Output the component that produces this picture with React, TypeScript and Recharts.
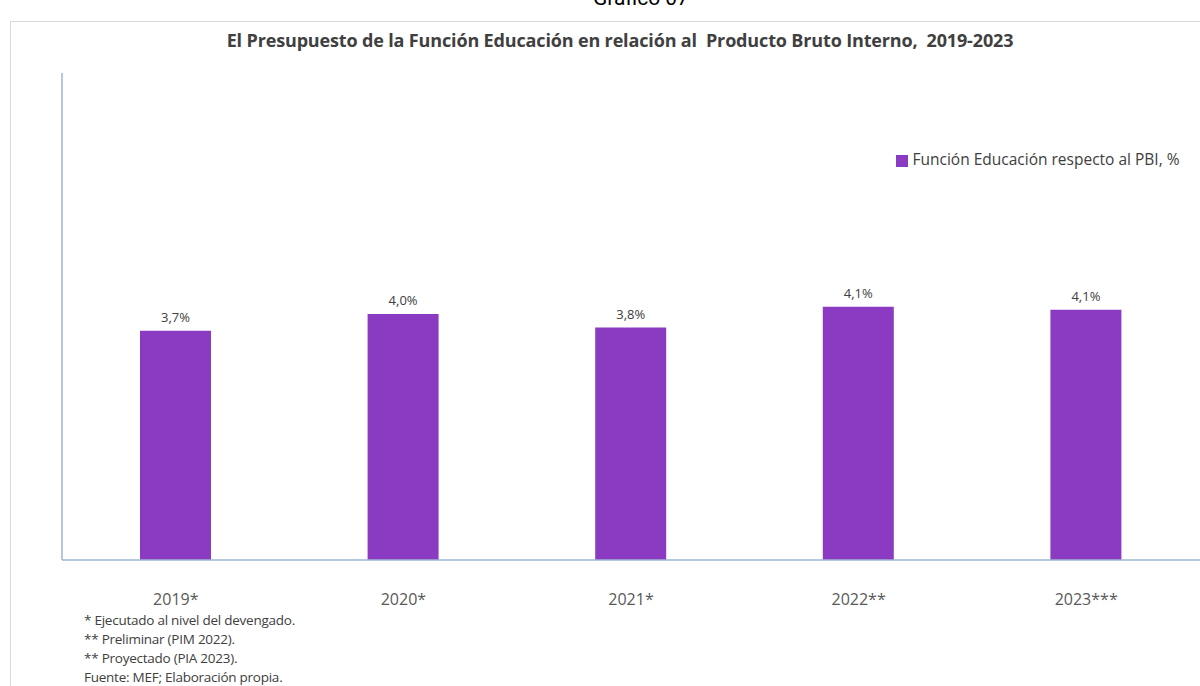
import React from 'react';
import { BarChart, Bar, XAxis, YAxis, Legend, LabelList } from 'recharts';

const years = ['2019*', '2020*', '2021*', '2022**', '2023***'];
const pctPbi = [3.72, 3.99, 3.77, 4.11, 4.06];
const pctLabels = ['3,7%', '4,0%', '3,8%', '4,1%', '4,1%'];
const footnotes = [
  '* Ejecutado al nivel del devengado.',
  '** Preliminar (PIM 2022).',
  '** Proyectado (PIA 2023).',
  'Fuente: MEF; Elaboración propia.',
];

const data = years.map((y, i) => ({ year: y, value: pctPbi[i], label: pctLabels[i] }));

const PURPLE = '#8a3bc2';
const AXIS = '#9db6d2';
const TEXT = '#404040';

export default function App() {
  return (
    <div style={{ position: 'absolute', left: 0, top: 0, width: 1200, height: 686, background: '#fff', overflow: 'hidden', fontFamily: '"Open Sans", sans-serif' }}>
      {/* outer frame */}
      <div style={{ position: 'absolute', left: 10, top: 21, width: 1200, height: 700, borderLeft: '1px solid #d9d9d9', borderTop: '1px solid #d9d9d9' }} />
      <div style={{ position: 'absolute', left: 0, width: 1282, top: -14, textAlign: 'center', fontSize: 21, color: '#000', fontFamily: 'Roboto, sans-serif' }}>
        Gráfico 07
      </div>
      <div style={{ position: 'absolute', left: 0, width: 1240, top: 28, textAlign: 'center', fontSize: 18, fontWeight: 700, color: TEXT, fontFamily: '"Open Sans", sans-serif', letterSpacing: -0.15 }}>
        El Presupuesto de la Función Educación en relación al&nbsp; Producto Bruto Interno,&nbsp; 2019-2023
      </div>

      <BarChart
        width={1200}
        height={686}
        data={data}
        margin={{ top: 73, right: 0, left: 61, bottom: 96 }}
        barCategoryGap={0}
      >
        <YAxis
          domain={[0, 7.9]}
          width={1}
          tick={false}
          tickLine={false}
          axisLine={{ stroke: AXIS, strokeWidth: 1.5 }}
        />
        <XAxis
          dataKey="year"
          tickLine={false}
          axisLine={{ stroke: AXIS, strokeWidth: 1.5 }}
          tickMargin={28}
          tick={{ fill: '#595959', fontSize: 16, fontFamily: '"Open Sans", sans-serif' }}
          interval={0}
        />
        <Legend
          layout="horizontal"
          verticalAlign="middle"
          align="center"
          iconType="square"
          iconSize={12}
          wrapperStyle={{ top: 148, left: 886, width: 314, fontSize: 15.5, fontFamily: '"Open Sans", sans-serif' }}
          formatter={(v: string) => <span style={{ color: TEXT }}>{v}</span>}
        />
        <Bar
          dataKey="value"
          name="Función Educación respecto al PBI, %"
          fill={PURPLE}
          barSize={71}
          isAnimationActive={false}
        >
          <LabelList dataKey="label" position="top" offset={9} fill={TEXT} fontSize={13} fontFamily='"Open Sans", sans-serif' />
        </Bar>
      </BarChart>

      <div style={{ position: 'absolute', left: 84, top: 611, fontSize: 13.5, lineHeight: '19px', color: TEXT, fontFamily: '"Open Sans", sans-serif', letterSpacing: -0.25 }}>
        {footnotes.map((f) => (
          <div key={f}>{f}</div>
        ))}
      </div>
    </div>
  );
}
